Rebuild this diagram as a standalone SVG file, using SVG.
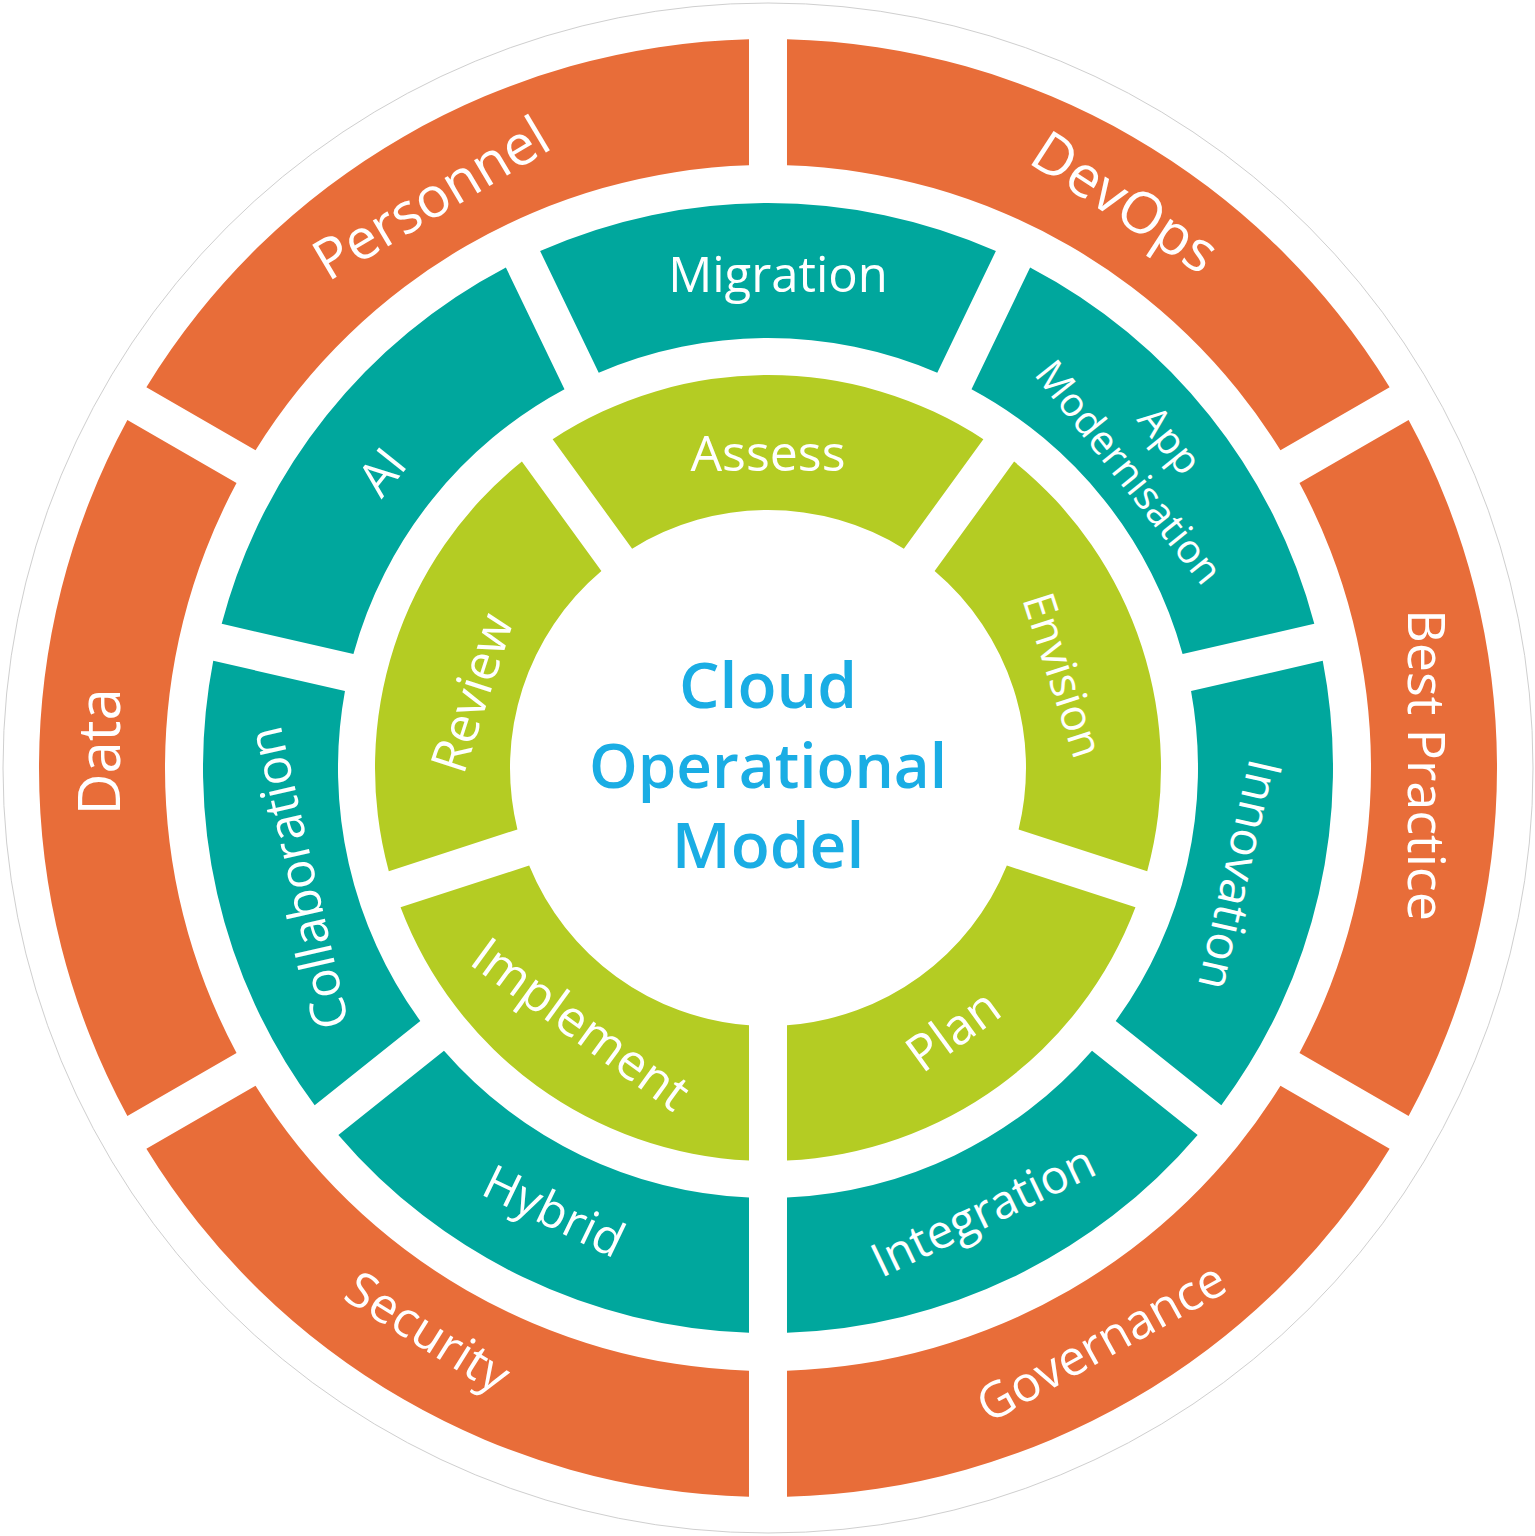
<svg xmlns="http://www.w3.org/2000/svg" xmlns:xlink="http://www.w3.org/1999/xlink" width="1535" height="1536" viewBox="0 0 1535 1536">
<style>
.lbl{font-family:"Open Sans","Noto Sans","Liberation Sans",sans-serif;fill:#ffffff;text-anchor:middle}
.o{font-size:56px}
.t{font-size:48px}
.am{font-size:40px}
.g{font-size:50px}
.ctr{font-family:"Open Sans","Noto Sans","Liberation Sans",sans-serif;font-weight:600;font-size:64px;fill:#1AADE4;text-anchor:middle}
</style>
<defs>
<path id="orangeSeg" fill="#E86D39" d="M 420.08 127.38 A 729 729 0 0 1 1115.92 127.38 L 1052.9 236.54 A 603 603 0 0 0 483.1 236.54 Z"/>
<path id="tealSeg" fill="#00A79D" d="M 540.11 251 A 565 565 0 0 1 995.89 251 L 937.27 372.72 A 430 430 0 0 0 598.73 372.72 Z"/>
<path id="greenSeg" fill="#B4CC23" d="M 552.64 439.26 A 393 393 0 0 1 983.36 439.26 L 903.87 548.67 A 258 258 0 0 0 632.13 548.67 Z"/>
</defs>
<rect width="1535" height="1536" fill="#ffffff"/>
<circle cx="768" cy="768" r="765" fill="none" stroke="#cfcfcf" stroke-width="1"/>
<g id="connectors"></g>

<g id="personnel"><use href="#orangeSeg" transform="rotate(-30 768 768)"/><text class="lbl o" transform="translate(431 198) rotate(-30.7)" dy="0.35em">Personnel</text></g>
<g id="devops"><use href="#orangeSeg" transform="rotate(30 768 768)"/><text class="lbl o" style="font-size:57px" transform="translate(1125 202) rotate(33)" dy="0.35em">DevOps</text></g>
<g id="best-practice"><use href="#orangeSeg" transform="rotate(90 768 768)"/><text class="lbl o" style="font-size:52px" transform="translate(1426 765) rotate(90)" dy="0.35em">Best Practice</text></g>
<g id="governance"><use href="#orangeSeg" transform="rotate(150 768 768)"/><text class="lbl o" style="font-size:49px" transform="translate(1101 1342) rotate(-29)" dy="0.35em">Governance</text></g>
<g id="security"><use href="#orangeSeg" transform="rotate(210 768 768)"/><text class="lbl o" style="font-size:49px" transform="translate(428 1332) rotate(32)" dy="0.35em">Security</text></g>
<g id="data"><use href="#orangeSeg" transform="rotate(-90 768 768)"/><text class="lbl o" style="font-size:58px" transform="translate(100 752) rotate(-90)" dy="0.35em">Data</text></g>

<g id="migration"><use href="#tealSeg"/><text class="lbl t" style="font-size:49px" transform="translate(778 275)" dy="0.35em">Migration</text></g>
<g id="app-modernisation"><use href="#tealSeg" transform="rotate(51.4286 768 768)"/><text class="lbl am" transform="translate(1170 440) rotate(51.43)" dy="0.35em">App</text><text class="lbl am" transform="translate(1129 472) rotate(51.43)" dy="0.35em">Modernisation</text></g>
<g id="innovation"><use href="#tealSeg" transform="rotate(102.857 768 768)"/><text class="lbl t" style="font-size:47px" transform="translate(1240 875) rotate(102.86)" dy="0.35em">Innovation</text></g>
<g id="integration"><use href="#tealSeg" transform="rotate(154.286 768 768)"/><text class="lbl t" style="font-size:47px" transform="translate(983 1211) rotate(-25.71)" dy="0.35em">Integration</text></g>
<g id="hybrid"><use href="#tealSeg" transform="rotate(205.714 768 768)"/><text class="lbl t" transform="translate(554 1211) rotate(25.71)" dy="0.35em">Hybrid</text></g>
<g id="collaboration"><use href="#tealSeg" transform="rotate(257.143 768 768)"/><text class="lbl t" style="font-size:49px" transform="translate(298 878) rotate(-102.86)" dy="0.35em">Collaboration</text></g>
<g id="ai"><use href="#tealSeg" transform="rotate(308.571 768 768)"/><text class="lbl t" transform="translate(382 472) rotate(-51.43)" dy="0.35em">AI</text></g>

<g id="assess"><use href="#greenSeg"/><text class="lbl g" transform="translate(768 453)" dy="0.35em">Assess</text></g>
<g id="envision"><use href="#greenSeg" transform="rotate(72 768 768)"/><text class="lbl g" style="font-size:44px" transform="translate(1063 675) rotate(72)" dy="0.35em">Envision</text></g>
<g id="plan"><use href="#greenSeg" transform="rotate(144 768 768)"/><text class="lbl g" transform="translate(953 1030) rotate(-36)" dy="0.35em">Plan</text></g>
<g id="implement"><use href="#greenSeg" transform="rotate(216 768 768)"/><text class="lbl g" transform="translate(581 1024) rotate(36)" dy="0.35em">Implement</text></g>
<g id="review"><use href="#greenSeg" transform="rotate(288 768 768)"/><text class="lbl g" transform="translate(472 693) rotate(-72)" dy="0.35em">Review</text></g>

<g id="center-title">
<text class="ctr" x="768" y="708">Cloud</text>
<text class="ctr" x="768" y="788" style="font-size:62px">Operational</text>
<text class="ctr" x="768" y="868">Model</text>
</g>
</svg>
